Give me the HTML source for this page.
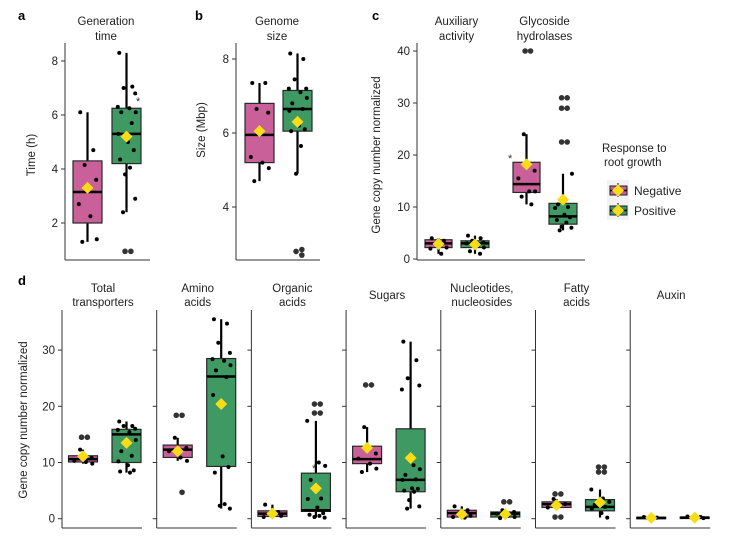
<!DOCTYPE html>
<html><head><meta charset="utf-8"><style>
body{margin:0;background:#fff;}
svg{display:block;font-family:"Liberation Sans",Arial,sans-serif;}
</style></head><body>
<svg id="fig" width="753" height="539" viewBox="0 0 753 539" xmlns="http://www.w3.org/2000/svg">
<text x="18" y="20" font-size="13" font-weight="bold">a</text>
<text x="195" y="20" font-size="13" font-weight="bold">b</text>
<text x="372" y="20" font-size="13" font-weight="bold">c</text>
<text x="18" y="285" font-size="13" font-weight="bold">d</text>
<g>
<text x="602" y="152" font-size="11.5" fill="#222">Response to</text>
<text x="604" y="166" font-size="11.5" fill="#222">root growth</text>
<rect x="607" y="180" width="22" height="40" fill="#f2f2f2"/>
<g>
<line x1="618" y1="183" x2="618" y2="197" stroke="#000" stroke-width="1"/>
<rect x="610" y="186" width="17" height="9" fill="#c9609a" stroke="#222"/>
<line x1="610" y1="190.5" x2="627" y2="190.5" stroke="#000" stroke-width="1.5"/>
<path d="M618 184.5 L624 190.5 L618 196.5 L612 190.5Z" fill="#f7dc16"/>
<text x="634" y="195" font-size="12" fill="#222">Negative</text></g>
<g>
<line x1="618" y1="203" x2="618" y2="217" stroke="#000" stroke-width="1"/>
<rect x="610" y="206" width="17" height="9" fill="#3e9963" stroke="#222"/>
<line x1="610" y1="210.5" x2="627" y2="210.5" stroke="#000" stroke-width="1.5"/>
<path d="M618 204.5 L624 210.5 L618 216.5 L612 210.5Z" fill="#f7dc16"/>
<text x="634" y="215" font-size="12" fill="#222">Positive</text></g>
</g>
</svg>
<script>
// ---------- data ----------
// [q1, median, q3, whiskerLow, whiskerHigh, mean]
const genTimeNeg=[2.0,3.15,4.3,1.3,6.1,3.3];
const genTimePos=[4.2,5.3,6.25,2.4,8.3,5.2];
const genTimeNegPts=[6.1,4.7,4.15,3.6,2.7,2.25,1.4,1.3];
const genTimePosPts=[8.3,7.05,7.0,6.8,6.3,6.25,6.1,6.1,5.7,5.3,5.0,4.7,4.35,4.05,3.8,2.9,2.4,0.95,0.95];
const genomeNeg=[5.2,5.95,6.8,4.7,7.35,6.05];
const genomePos=[6.05,6.65,7.15,4.9,8.15,6.3];
const genomeNegPts=[7.35,7.35,6.65,6.55,5.35,5.2,5.05,4.7];
const genomePosPts=[8.15,8.0,7.45,7.2,7.2,7.1,6.95,6.8,6.65,6.6,6.2,6.1,6.05,5.65,4.9,2.85,2.8,2.7];
const cCategories=["Auxiliary|activity","Glycoside|hydrolases"];
const cNeg=[[2.2,3.0,3.7,1.0,4.0,2.9],[12.8,14.4,18.6,10.5,24,18.2]];
const cPos=[[2.2,3.0,3.5,1.0,4.5,2.8],[6.7,8.2,10.7,5.5,16.4,11.4]];
const cNegPts=[[4.0,3.5,3.0,2.2,2.0,1.0],[40,40,24,17,15.5,13,13,12,10.5]];
const cPosPts=[[4.5,4.0,3.5,3.2,3.0,2.5,2.2,1.5,1.0],[31,31,29,29,22.5,22.5,16.4,10.5,10,9.8,8.5,8,7.5,7,6.2,6,5.5]];
const dCategories=["Total|transporters","Amino|acids","Organic|acids","Sugars","Nucleotides,|nucleosides","Fatty|acids","Auxin"];
const dNeg=[[10.1,10.6,11.2,9.8,12.3,11.1],[10.9,12.3,13.1,10.3,14.4,12.0],[0.4,0.9,1.4,0.3,2.5,0.9],[9.8,10.6,12.9,8.3,16.3,12.6],[0.3,1.0,1.5,0.2,2.2,0.8],[2.0,2.6,3.0,2.0,3.5,2.4],[0.1,0.15,0.25,0.05,0.35,0.15]];
const dPos=[[10.0,15.0,15.9,8.2,17.3,13.5],[9.3,25.3,28.5,1.8,35.5,20.4],[1.3,1.5,8.1,0.2,17.4,5.4],[4.8,6.9,16.0,1.8,31.5,10.8],[0.3,0.9,1.2,0.1,1.6,0.8],[1.4,2.1,3.4,0.2,5.2,2.9],[0.1,0.2,0.3,0.05,0.4,0.2]];
const dNegPts=[[14.5,14.5,12.3,10.8,10.3,10.1,9.8],[18.4,18.4,14.4,12.6,12.0,10.9,10.3,4.7],[2.5,1.2,0.9,0.5,0.3],[23.8,23.8,16.3,11.6,10.7,9.8,8.9,8.3],[2.2,1.5,1.0,0.5,0.3,0.2],[4.4,4.4,3.5,2.6,2.0,0.3,0.3],[0.3,0.2,0.1]];
const dPosPts=[[17.3,16.5,16.5,16.0,15.8,15.4,14.0,12.0,11.2,10.2,9.5,8.6,8.4,8.2],[35.5,34.7,31.3,29.5,28.4,28.1,27.3,26.4,25.2,22.0,11.1,9.2,8.2,2.6,2.3,1.8],[20.4,20.4,18.8,18.8,17.4,10.0,9.4,6.9,3.6,3.5,2.0,1.0,0.7,0.5,0.3,0.2],[31.5,28.2,25.0,23.7,23.0,9.5,8.8,7.8,7.0,6.9,5.4,5.3,5.0,4.8,3.3,2.2,1.8],[3.0,3.0,1.5,1.2,0.9,0.5,0.3,0.1],[9.2,9.2,8.3,8.3,5.2,3.6,3.0,2.5,2.1,1.8,1.0,0.2],[0.4,0.3,0.2,0.1]];

// ---------- drawing ----------
const NS="http://www.w3.org/2000/svg";
const svg=document.getElementById('fig');
function mk(tag,attrs,parent){const e=document.createElementNS(NS,tag);for(const k in attrs)e.setAttribute(k,attrs[k]);(parent||svg).appendChild(e);return e;}
const PINK="#c9609a",GREEN="#3e9963";
const jit=[-0.25,0.2,-0.1,0.3,-0.3,0.1,0.32,-0.18,0.18,-0.28,0.05,0.25,-0.22,0.12,-0.05,0.3,-0.12,0.22,-0.3,0.1];

function drawBox(g,stats,pts,cx,w,ys,color,name){
  const bg=mk('g',{},g);
  
  
  const [q1,med,q3,lo,hi,mean]=stats;
  mk('line',{x1:cx,x2:cx,y1:ys(hi),y2:ys(q3),stroke:'#000','stroke-width':2.2},bg);
  mk('line',{x1:cx,x2:cx,y1:ys(q1),y2:ys(lo),stroke:'#000','stroke-width':2.2},bg);
  mk('rect',{x:cx-w/2,y:ys(q3),width:w,height:Math.max(ys(q1)-ys(q3),1.5),fill:color,stroke:'#2a2a2a','stroke-width':1.2},bg);
  mk('line',{x1:cx-w/2,x2:cx+w/2,y1:ys(med),y2:ys(med),stroke:'#000','stroke-width':2.5},bg);
  pts.forEach((v,i)=>{
    const out=v>hi+0.001||v<lo-0.001;
    const j=out?(i%2?0.15:-0.05):jit[i%jit.length];
    const p=mk('circle',{cx:cx+j*w,cy:ys(v),r:out?2.8:2,fill:out?'#333':'#000'},bg);
    
    
  });
  const m=ys(mean);
  const d=mk('path',{d:`M${cx} ${m-6} L${cx+6} ${m} L${cx} ${m+6} L${cx-6} ${m}Z`,fill:'#f7dc16'},bg);
  
  
}
function axis(g,x0,x1,yTop,yBot,ticks,ys,showLabels){
  mk('line',{x1:x0,x2:x0,y1:yTop,y2:yBot,stroke:'#333','stroke-width':1},g);
  mk('line',{x1:x0,x2:x1,y1:yBot,y2:yBot,stroke:'#333','stroke-width':1},g);
  ticks.forEach(t=>{
    mk('line',{x1:x0-4,x2:x0,y1:ys(t),y2:ys(t),stroke:'#333'},g);
    if(showLabels){const tx=mk('text',{x:x0-7,y:ys(t)+4,'font-size':11.5,'text-anchor':'end',fill:'#222'},g);tx.textContent=t;
      }
  });
}
function title(g,txt,cx,y1,y2){
  const parts=txt.split('|');
  if(parts.length===1){const t=mk('text',{x:cx,y:(y1+y2)/2,'font-size':11.5,'text-anchor':'middle',fill:'#222'},g);t.textContent=parts[0];}
  else parts.forEach((p,i)=>{const t=mk('text',{x:cx,y:i?y2:y1,'font-size':11.5,'text-anchor':'middle',fill:'#222'},g);t.textContent=p;});
}
function ylabel(g,txt,x,y){const t=mk('text',{x:x,y:y,'font-size':11.5,'text-anchor':'middle',fill:'#222',transform:`rotate(-90 ${x} ${y})`},g);t.textContent=txt;
  }

// Panel a
{const g=mk('g',{});
 const ys=v=>223-(v-2)*27;
 axis(g,65,150,43,260,[2,4,6,8],ys,true);
 title(g,"Generation|time",106,25,40);
 ylabel(g,"Time (h)",35,155);
 drawBox(g,genTimeNeg,genTimeNegPts,87.5,29,ys,PINK,'box-gen-time-negative');
 drawBox(g,genTimePos,genTimePosPts,126.5,29,ys,GREEN,'box-gen-time-positive');
 const s=mk('text',{x:136,y:ys(6.6)+6,'font-size':11,fill:'#333'},g);s.textContent='*';}
// Panel b
{const g=mk('g',{});
 const ys=v=>133-(v-6)*37;
 axis(g,236,320,43,260,[4,6,8],ys,true);
 title(g,"Genome|size",277,25,40);
 ylabel(g,"Size (Mbp)",205,130);
 drawBox(g,genomeNeg,genomeNegPts,259.5,29,ys,PINK,'box-genome-negative');
 drawBox(g,genomePos,genomePosPts,297.5,29,ys,GREEN,'box-genome-positive');}
// Panel c
{const g=mk('g',{});
 const ys=v=>259-v*5.2;
 axis(g,417,585,43,260,[0,10,20,30,40],ys,true);
 ylabel(g,"Gene copy number normalized",380,155);
 const xs=i=>438.5+i*88;
 cCategories.forEach((c,i)=>{
   title(g,c,xs(i)+18,25,40);
   drawBox(g,cNeg[i],cNegPts[i],xs(i),27,ys,PINK,'box-c-negative-'+i);
   drawBox(g,cPos[i],cPosPts[i],xs(i)+36.5,28,ys,GREEN,'box-c-positive-'+i);
 });
 const s=mk('text',{x:508,y:ys(19.8)+6,'font-size':11,fill:'#333'},g);s.textContent='*';}
// Panel d
{const ys=v=>518.7-v*5.62;
 const x0=i=>62+i*94.7;
 dCategories.forEach((c,i)=>{
   const g=mk('g',{});
   
   
   axis(g,x0(i),x0(i)+80,310,528,[0,10,20,30],ys,i===0);
   title(g,c,x0(i)+41,292,306);
   drawBox(g,dNeg[i],dNegPts[i],x0(i)+21,29,ys,PINK,'box-d-negative-'+i);
   drawBox(g,dPos[i],dPosPts[i],x0(i)+64.5,29,ys,GREEN,'box-d-positive-'+i);
 });
 const g=svg;
 ylabel(g,"Gene copy number normalized",27,420);
 const s=mk('text',{x:312,y:ys(9.4)+6,'font-size':11,fill:'#333'});s.textContent='*';}
</script>
</body></html>
